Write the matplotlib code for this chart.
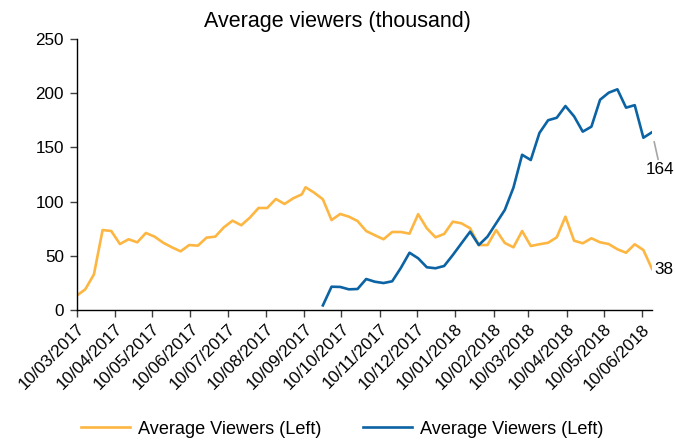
import matplotlib
matplotlib.use("Agg")
import matplotlib.pyplot as plt
import numpy as np
import pandas as pd

plt.rcParams['font.family'] = ['Liberation Sans', 'DejaVu Sans']

# Weekly observation dates (the series shifts by a few days in September 2017)
dates_a = pd.date_range("2017-03-10", periods=27, freq="7D")
dates_b = pd.date_range("2017-09-11", periods=41, freq="7D")
dates = dates_a.append(dates_b)

# Average viewers, thousands
orange_a = [13.4, 19.3, 33.1, 73.9, 73.0, 61.0, 65.4, 62.6, 71.2, 67.8,
            62.2, 58.0, 54.3, 60.1, 59.5, 66.9, 67.8, 76.4, 82.5, 78.3,
            85.3, 94.2, 94.2, 102.5, 97.9, 103.1, 106.8]
orange_b = [113.3, 108.3, 102.2, 83.1, 88.7, 86.2, 82.2, 73.0, 69.1, 65.4,
            72.1, 72.1, 70.6, 88.5, 75.5, 67.2, 70.3, 81.6, 80.1, 75.5,
            60.1, 60.1, 73.9, 62.0, 58.0, 73.0, 59.2, 60.8, 62.2, 67.2,
            86.2, 64.1, 61.7, 66.3, 62.6, 61.0, 56.2, 53.0, 60.8, 55.5,
            38.0]
blue_b = [np.nan, np.nan, 4.5, 21.7, 21.5, 19.3, 19.6, 28.8, 26.3, 25.1,
          26.7, 39.0, 53.0, 47.9, 39.6, 38.7, 40.8, 50.9, 61.7, 72.4,
          60.1, 67.8, 80.1, 92.4, 113.0, 143.2, 138.4, 163.3, 175.0, 177.3,
          188.1, 178.6, 164.5, 169.1, 193.9, 200.4, 203.5, 186.6, 188.9, 158.9,
          164.0]

orange = np.array(orange_a + orange_b)
blue = np.array([np.nan] * len(orange_a) + blue_b)

series_label = "Average Viewers (Left)"
title = "Average viewers (thousand)"
tick_dates = pd.date_range("2017-03-10", "2018-06-10", freq=pd.DateOffset(months=1))

ORANGE = "#FDB642"
BLUE = "#0B63A4"

fig = plt.figure(figsize=(6.75, 4.41), dpi=100)
ax = fig.add_axes([0.1135, 0.2964, 0.8525, 0.6156])

ax.plot(dates, orange, color=ORANGE, lw=1.9, solid_joinstyle="round",
        label=series_label)
ax.plot(dates, blue, color=BLUE, lw=1.9, solid_joinstyle="round",
        label=series_label)

ax.set_ylim(0, 250)
ax.set_yticks([0, 50, 100, 150, 200, 250])
ax.set_xlim(dates[0], dates[-1])
ax.set_xticks(tick_dates)
ax.set_xticklabels([d.strftime("%d/%m/%Y") for d in tick_dates],
                   rotation=45, ha="right", rotation_mode="anchor")

for side in ("top", "right"):
    ax.spines[side].set_visible(False)
for side in ("left", "bottom"):
    ax.spines[side].set_color("#000000")
    ax.spines[side].set_linewidth(1.0)
ax.tick_params(axis="both", direction="out", length=5, width=1.0,
               color="#404040", labelsize=12.3, labelcolor="#000000")
ax.tick_params(axis="x", pad=3)
ax.tick_params(axis="y", pad=4)

fig.text(0.5, 0.952, title, ha="center", va="center", fontsize=15.5)

# End-of-line value labels
last = len(dates) - 1
ax.annotate(f"{blue[last]:.0f}", xy=(dates[last], blue[last]),
            xytext=(6, -27), textcoords="offset points",
            ha="center", va="center", fontsize=12.3,
            arrowprops=dict(arrowstyle="-", color="#A6A6A6", lw=1.2,
                            shrinkA=0, shrinkB=7))
ax.annotate(f"{orange[last]:.0f}", xy=(dates[last], orange[last]),
            xytext=(2, 0), textcoords="offset points",
            ha="left", va="center", fontsize=12.3, annotation_clip=False)

fig.legend(loc="lower center", bbox_to_anchor=(0.507, -0.03), ncol=2,
           frameon=False, fontsize=13.1, handlelength=2.7,
           columnspacing=2.3, handletextpad=0.45)

fig.savefig("out.png", dpi=100)
